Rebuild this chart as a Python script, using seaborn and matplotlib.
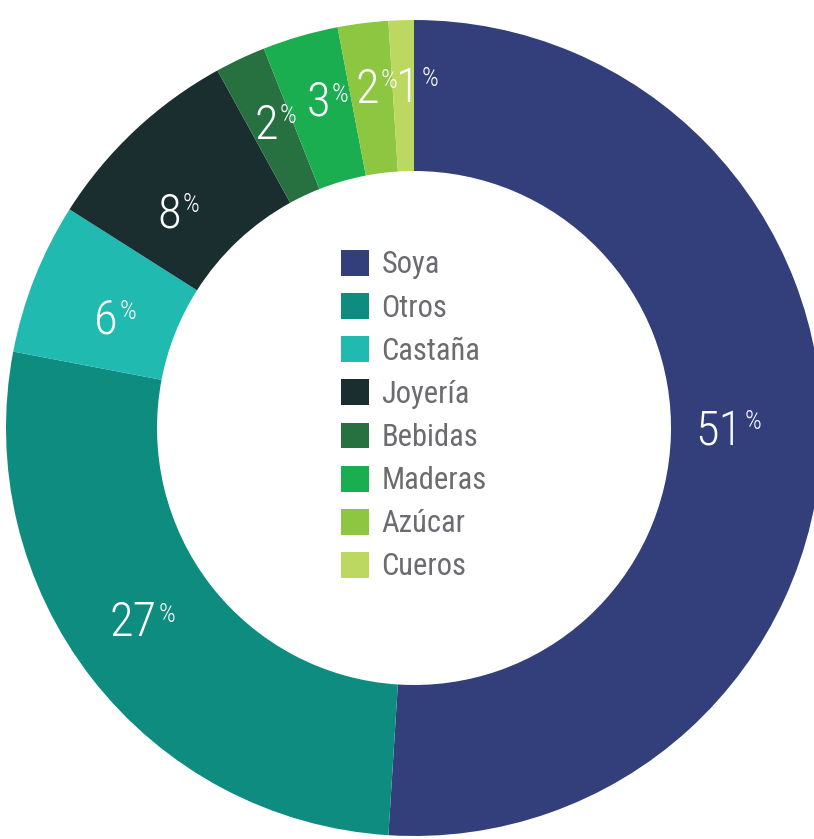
import matplotlib
matplotlib.use("Agg")
import matplotlib.pyplot as plt
import seaborn as sns
import logging

logging.getLogger("matplotlib.font_manager").setLevel(logging.ERROR)

# Export shares by product
categories = ["Soya", "Otros", "Castaña", "Joyería", "Bebidas", "Maderas", "Azúcar", "Cueros"]
shares = [51, 27, 6, 8, 2, 3, 2, 1]
colors = ["#323f7a", "#0e8c80", "#20bab0", "#1a2e30", "#277040", "#1aae50", "#8dc641", "#bcd860"]

sns.set_theme(style="white")
plt.rcParams["font.family"] = ["Roboto Condensed", "Roboto", "DejaVu Sans"]

W, H = 814, 839
fig = plt.figure(figsize=(W / 100, H / 100), dpi=100)
ax = fig.add_axes([0, 0, 1, 1])

cx, cy = 414, 428          # ring centre (pixels from top-left)
r_out, r_in = 408, 257

wedges, _ = ax.pie(
    shares,
    colors=colors,
    startangle=90,
    counterclock=False,
    radius=r_out,
    center=(cx, H - cy),
    wedgeprops=dict(width=r_out - r_in, linewidth=0),
)
ax.set_xlim(0, W)
ax.set_ylim(0, H)
ax.set_aspect("auto")
ax.axis("off")

# Label anchors: (x where number meets "%", digit baseline, digit top, size scale)
label_pos = [
    (744, 445, 410, 1.0),
    (158, 636, 603, 1.0),
    (119, 334, 300, 1.0),
    (182, 227, 193, 1.0),
    (279, 139, 104, 1.0),
    (331, 116, 83, 1.0),
    (380, 103, 69, 1.0),
    (421, 102, 67, 1.0),
]
for val, (jx, base, top, s) in zip(shares, label_pos):
    ax.text(jx - 1, H - base, f"{val}", color="white", fontsize=35 * s,
            fontweight="light", ha="right", va="baseline")
    ax.text(jx + 1, H - top, "%", color="white", fontsize=19 * s,
            fontweight="light", ha="left", va="top")

leg = ax.legend(
    wedges, categories,
    loc="upper left",
    bbox_to_anchor=(341, H - 250),
    bbox_transform=ax.transData,
    frameon=False,
    fontsize=22,
    handlelength=0.92,
    handleheight=0.92,
    handletextpad=0.40,
    labelspacing=0.45,
    borderpad=0,
    borderaxespad=0,
)
for t in leg.get_texts():
    t.set_color("#6b6b70")

fig.savefig("out.png", dpi=100)
